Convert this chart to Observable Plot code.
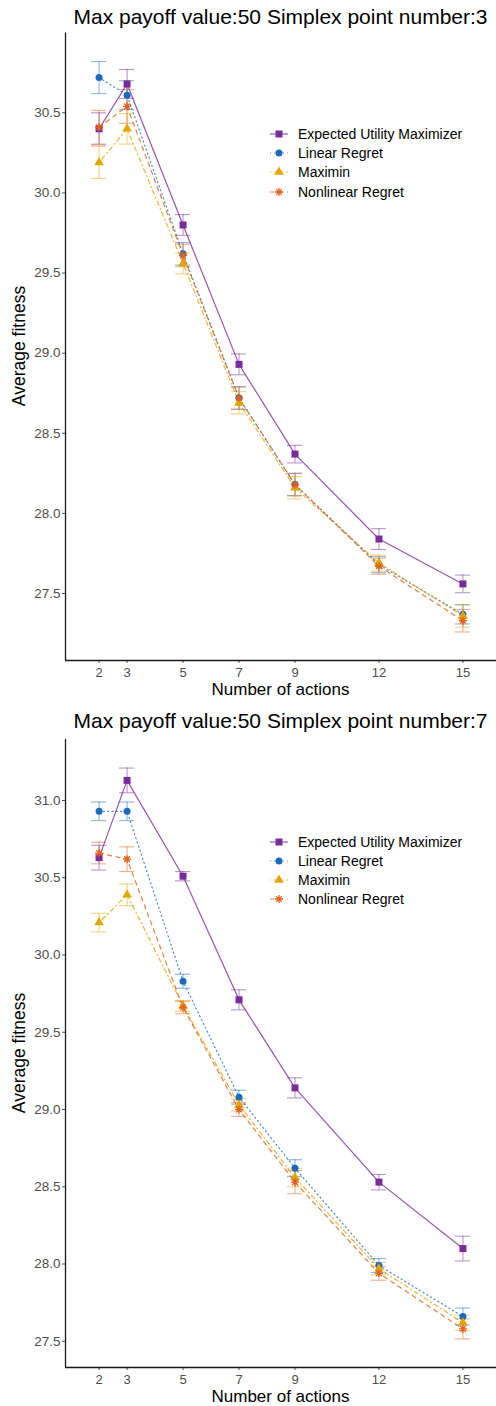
<!DOCTYPE html>
<html>
<head>
<meta charset="utf-8">
<script src="https://cdn.jsdelivr.net/npm/d3@7"></script>
<script src="https://cdn.jsdelivr.net/npm/@observablehq/plot@0.6"></script>
<style>
  html, body { margin: 0; padding: 0; background: #fff; }
  body { font-family: "Liberation Sans", Arial, sans-serif; }
  #root { position: relative; width: 496px; height: 1406px; overflow: hidden; }
  .plotsvg { position: absolute; left: 0; }
  .title { position: absolute; left: 65px; width: 431px; text-align: center; font-size: 21px; line-height: 21px; color: #000; white-space: nowrap; }
  .xlab { position: absolute; left: 65px; width: 431px; text-align: center; font-size: 17px; line-height: 17px; color: #000; white-space: nowrap; }
  .ylab { position: absolute; font-size: 17.5px; line-height: 17.5px; color: #000; white-space: nowrap; transform: translate(-50%, -50%) rotate(-90deg); }
  .legrow { position: absolute; left: 268px; height: 16px; display: flex; align-items: center; font-size: 14px; line-height: 16px; white-space: nowrap; color: #000; }
</style>
</head>
<body>
<div id="root"></div>
<script>
// ---------------- data ----------------
const actions = [2, 3, 5, 7, 9, 12, 15];
const seriesNames = ["Expected Utility Maximizer", "Linear Regret", "Maximin", "Nonlinear Regret"];
const seriesColors = ["#7A2B9B", "#1A6BC0", "#E3A600", "#E5611B"];
const seriesDash = [null, "1.1,3.2", "1.1,3.2,4.3,3.2", "4.3,4.3"];

const titles = ["Max payoff value:50 Simplex point number:3", "Max payoff value:50 Simplex point number:7"];
const xLabel = "Number of actions";
const yLabel = "Average fitness";

// Panel 1 (Simplex point 3): means and error half-widths
const p1EU = [30.40, 30.68, 29.80, 28.93, 28.37, 27.84, 27.56];
const p1EUse = [0.10, 0.09, 0.065, 0.065, 0.055, 0.065, 0.055];
const p1LR = [30.72, 30.61, 29.62, 28.72, 28.18, 27.68, 27.37];
const p1LRse = [0.10, 0.09, 0.07, 0.07, 0.07, 0.05, 0.06];
const p1MM = [30.19, 30.40, 29.56, 28.69, 28.16, 27.69, 27.36];
const p1MMse = [0.10, 0.095, 0.065, 0.07, 0.07, 0.05, 0.07];
const p1NR = [30.41, 30.54, 29.61, 28.72, 28.18, 27.67, 27.33];
const p1NRse = [0.105, 0.105, 0.07, 0.07, 0.07, 0.05, 0.07];

// Panel 2 (Simplex point 7)
const p2EU = [30.63, 31.13, 30.51, 29.71, 29.14, 28.53, 28.10];
const p2EUse = [0.08, 0.08, 0.03, 0.065, 0.065, 0.05, 0.08];
const p2LR = [30.93, 30.93, 29.83, 29.08, 28.62, 27.99, 27.66];
const p2LRse = [0.06, 0.06, 0.045, 0.045, 0.055, 0.045, 0.055];
const p2MM = [30.21, 30.39, 29.67, 29.03, 28.56, 27.97, 27.62];
const p2MMse = [0.06, 0.07, 0.035, 0.04, 0.06, 0.04, 0.05];
const p2NR = [30.66, 30.62, 29.66, 29.00, 28.53, 27.94, 27.58];
const p2NRse = [0.07, 0.08, 0.04, 0.045, 0.075, 0.045, 0.065];

const yTicks1 = [27.5, 28.0, 28.5, 29.0, 29.5, 30.0, 30.5];
const yTicks2 = [27.5, 28.0, 28.5, 29.0, 29.5, 30.0, 30.5, 31.0];

// ---------------- helpers ----------------
const star8 = {
  draw(ctx, size) {
    const r = Math.sqrt(size / Math.PI) * 1.1;
    const d = r * Math.SQRT1_2;
    ctx.moveTo(-r, 0); ctx.lineTo(r, 0);
    ctx.moveTo(0, -r); ctx.lineTo(0, r);
    ctx.moveTo(-d, -d); ctx.lineTo(d, d);
    ctx.moveTo(-d, d); ctx.lineTo(d, -d);
  }
};
const seriesSymbols = [d3.symbolSquare, d3.symbolCircle, d3.symbolTriangle, star8];
const seriesR = [3.95, 3.5, 3.6, 3.7];

function buildRows(means, ses) {
  const rows = [];
  means.forEach((arr, s) => {
    arr.forEach((v, i) => rows.push({ series: seriesNames[s], si: s, x: actions[i], y: v, se: ses[s][i] }));
  });
  return rows;
}

const panels = [
  { rows: buildRows([p1EU, p1LR, p1MM, p1NR], [p1EUse, p1LRse, p1MMse, p1NRse]), yTicks: yTicks1,
    top: 0, height: 706, marginTop: 32.5, marginBottom: 46, titleTop: 5.5, xlabTop: 681, ylabY: 346, legendY: 134 },
  { rows: buildRows([p2EU, p2LR, p2MM, p2NR], [p2EUse, p2LRse, p2MMse, p2NRse]), yTicks: yTicks2,
    top: 706, height: 700, marginTop: 33, marginBottom: 39, titleTop: 710, xlabTop: 1388, ylabY: 1053, legendY: 841.5 }
];

const root = document.getElementById("root");
const xExt = d3.extent(actions);
const xDomain = [xExt[0] - 0.5 - 0.05 * (xExt[1] - xExt[0] + 1), xExt[1] + 0.5 + 0.05 * (xExt[1] - xExt[0] + 1)];
const capHalf = 0.27;

panels.forEach((P, pi) => {
  const rows = P.rows;
  const lo = d3.min(rows, d => d.y - d.se), hi = d3.max(rows, d => d.y + d.se);
  const pad = (hi - lo) * 0.05;
  const yDomain = [lo - pad, hi + pad];

  const marks = [
    Plot.axisX({ ticks: actions, tickSize: 3, tickPadding: 4, label: null, color: "#4D4D4D", fontSize: 13 }),
    Plot.axisY({ ticks: P.yTicks, tickSize: 3, tickPadding: 2, label: null, tickFormat: d3.format(".1f"), color: "#4D4D4D", fontSize: 13.5 }),
    Plot.ruleX([xDomain[0]], { stroke: "#1a1a1a", strokeWidth: 1.3 }),
    Plot.ruleY([yDomain[0]], { stroke: "#1a1a1a", strokeWidth: 1.3 })
  ];

  seriesNames.forEach((name, s) => {
    const data = rows.filter(d => d.si === s);
    const col = seriesColors[s];
    marks.push(
      Plot.ruleX(data, { x: "x", y1: d => d.y - d.se, y2: d => d.y + d.se, stroke: col, strokeOpacity: 0.5, strokeWidth: 1.1 }),
      Plot.ruleY(data, { y: d => d.y + d.se, x1: d => d.x - capHalf, x2: d => d.x + capHalf, stroke: col, strokeOpacity: 0.5, strokeWidth: 1.1 }),
      Plot.ruleY(data, { y: d => d.y - d.se, x1: d => d.x - capHalf, x2: d => d.x + capHalf, stroke: col, strokeOpacity: 0.5, strokeWidth: 1.1 })
    );
  });
  seriesNames.forEach((name, s) => {
    const data = rows.filter(d => d.si === s);
    const col = seriesColors[s];
    const opts = { x: "x", y: "y", stroke: col, strokeWidth: 1.2, strokeOpacity: 0.8 };
    if (seriesDash[s]) opts.strokeDasharray = seriesDash[s];
    marks.push(Plot.line(data, opts));
  });
  seriesNames.forEach((name, s) => {
    const data = rows.filter(d => d.si === s);
    const col = seriesColors[s];
    if (s === 3) {
      marks.push(Plot.dot(data, { x: "x", y: "y", symbol: seriesSymbols[s], r: seriesR[s], fill: "none", stroke: col, strokeWidth: 1.3 }));
    } else {
      marks.push(Plot.dot(data, { x: "x", y: "y", symbol: seriesSymbols[s], r: seriesR[s], fill: col, stroke: "none" }));
    }
  });

  const svg = Plot.plot({
    width: 496,
    height: P.height,
    marginLeft: 65,
    marginRight: 0,
    marginTop: P.marginTop,
    marginBottom: P.marginBottom,
    x: { type: "linear", domain: xDomain },
    y: { type: "linear", domain: yDomain },
    style: { fontFamily: '"Liberation Sans", Arial, sans-serif', fontSize: "13px", background: "transparent", overflow: "visible" },
    marks
  });
  svg.classList.add("plotsvg");
  svg.style.top = P.top + "px";
  svg.style.position = "absolute";
  root.appendChild(svg);

  const t = document.createElement("div");
  t.className = "title"; t.style.top = P.titleTop + "px"; t.textContent = titles[pi];
  root.appendChild(t);

  const xl = document.createElement("div");
  xl.className = "xlab"; xl.style.top = P.xlabTop + "px"; xl.textContent = xLabel;
  root.appendChild(xl);

  const yl = document.createElement("div");
  yl.className = "ylab"; yl.style.left = "20px"; yl.style.top = P.ylabY + "px"; yl.textContent = yLabel;
  root.appendChild(yl);

  // legend
  seriesNames.forEach((name, s) => {
    const row = document.createElement("div");
    row.className = "legrow";
    row.style.top = (P.legendY + s * 19.2 - 8) + "px";
    const key = d3.create("svg").attr("width", 22).attr("height", 16).style("display", "block");
    const ln = key.append("line").attr("x1", 2).attr("x2", 20).attr("y1", 8).attr("y2", 8)
      .attr("stroke", seriesColors[s]).attr("stroke-width", 1.2).attr("stroke-opacity", 0.8);
    if (seriesDash[s]) ln.attr("stroke-dasharray", seriesDash[s]);
    const path = d3.symbol().type(seriesSymbols[s]).size(Math.PI * seriesR[s] * seriesR[s])();
    const p = key.append("path").attr("d", path).attr("transform", "translate(11,8)");
    if (s === 3) p.attr("fill", "none").attr("stroke", seriesColors[s]).attr("stroke-width", 1.3);
    else p.attr("fill", seriesColors[s]);
    row.appendChild(key.node());
    const txt = document.createElement("span");
    txt.style.marginLeft = "8px";
    txt.textContent = name;
    row.appendChild(txt);
    root.appendChild(row);
  });
});
</script>
</body>
</html>
